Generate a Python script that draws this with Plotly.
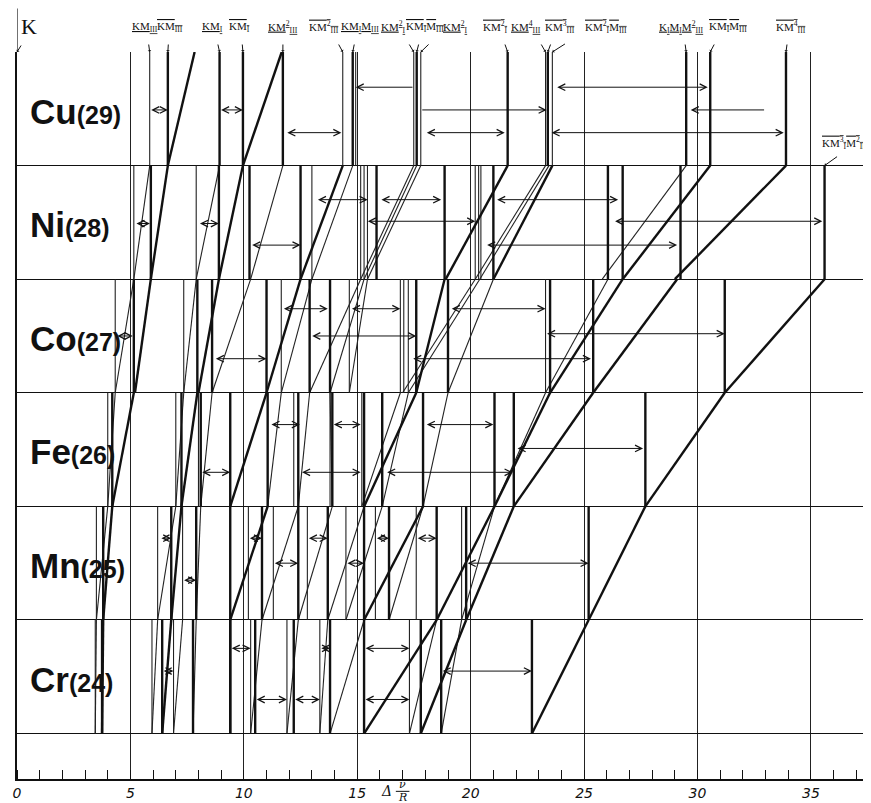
import plotly.graph_objects as go

# ---------------- data (Δν/R positions) ----------------
ELEMENTS = ["Cr", "Mn", "Fe", "Co", "Ni", "Cu"]
ATOMIC_NUMBERS = [24, 25, 26, 27, 28, 29]

# vertical satellite lines per element row
cu_thick = [6.65, 8.93, 9.96, 11.72, 14.80, 17.62, 21.63, 23.40, 29.50, 30.56, 33.90]
cu_thin = [5.85, 14.36, 14.93, 17.49, 17.80, 23.30, 23.60]
ni_thick = [5.90, 8.90, 10.25, 12.50, 15.85, 18.85, 21.00, 26.05, 26.70, 29.25, 35.60]
ni_thin = [5.15, 7.90, 13.00, 15.15, 15.30, 15.45, 20.20, 20.35, 20.45]
co_thick = [5.15, 7.95, 8.60, 11.00, 12.90, 13.80, 17.60, 19.00, 23.50, 25.40, 31.20]
co_thin = [4.33, 7.35, 11.65, 14.65, 16.90, 17.05, 17.25, 23.30]
fe_thick = [4.20, 7.25, 8.10, 9.40, 11.05, 12.40, 13.90, 15.30, 16.10, 17.90, 21.05, 21.90, 27.70]
fe_thin = [4.00, 7.00, 8.00, 12.20, 13.80, 15.20]
mn_thick = [3.80, 6.80, 7.90, 9.40, 10.80, 12.40, 13.70, 15.30, 16.40, 18.50, 19.80, 25.20]
mn_thin = [3.50, 6.20, 7.30, 10.20, 11.30, 12.80, 14.50, 15.80, 17.60, 19.60]
cr_thick = [3.75, 6.40, 7.76, 9.40, 10.50, 12.20, 13.80, 15.30, 17.80, 18.70, 22.70]
cr_thin = [3.45, 5.95, 6.90, 10.30, 11.90, 13.35, 17.30]

# diagonals inside each row: (position at bottom of row, position at top of row)
cu_diag_thick = [(6.65, 7.83), (9.96, 11.67)]
cu_diag_thin = []
ni_diag_thick = [(5.90, 6.65), (8.90, 9.96), (12.50, 14.36), (18.90, 21.63), (21.00, 23.60), (26.70, 30.56), (29.00, 33.90)]
ni_diag_thin = [(5.15, 5.85), (7.90, 8.93), (10.30, 11.72), (13.00, 14.80), (15.15, 17.49), (15.30, 17.62),
                (15.45, 17.80), (20.20, 23.30), (20.40, 23.45), (25.80, 29.50)]
co_diag_thick = [(5.20, 5.90), (8.00, 8.90), (11.00, 12.50), (17.60, 18.85), (23.50, 26.70), (25.40, 29.10), (31.20, 35.60)]
co_diag_thin = [(4.33, 5.15), (7.35, 7.90), (8.60, 10.30), (11.65, 13.00), (12.90, 15.15), (13.80, 15.30),
                (14.65, 15.45), (17.00, 20.20), (17.25, 20.40), (19.00, 21.00), (23.30, 26.05)]
fe_diag_thick = [(4.20, 5.15), (7.25, 7.95), (9.40, 11.00), (15.30, 17.60), (21.05, 23.50), (21.90, 25.40), (27.70, 31.20)]
fe_diag_thin = [(4.00, 4.33), (7.00, 7.35), (8.10, 8.60), (11.05, 11.65), (12.40, 12.90), (13.90, 13.80),
                (15.20, 16.90), (16.10, 17.25), (17.90, 19.00), (21.05, 23.30)]
mn_diag_thick = [(3.80, 4.20), (6.80, 7.25), (9.40, 11.05), (15.30, 17.90), (18.50, 21.05), (19.80, 21.90), (25.20, 27.70)]
mn_diag_thin = [(3.50, 4.00), (6.20, 7.00), (7.90, 8.10), (10.80, 12.40), (12.40, 13.90), (13.70, 15.30),
                (14.50, 16.10), (16.40, 17.90), (19.60, 21.05)]
cr_diag_thick = [(3.75, 3.80), (6.40, 6.80), (9.40, 9.40), (15.30, 18.50), (17.80, 19.80), (22.70, 25.20)]
cr_diag_thin = [(3.45, 3.50), (5.95, 6.20), (6.90, 7.30), (7.76, 7.90), (10.30, 10.80), (11.90, 12.40),
                (13.35, 13.70), (13.80, 15.30), (17.30, 18.50), (18.70, 19.60)]

# arrows: (from, to, height in row 0..1 from bottom, heads)
cu_arrows = [(5.85, 6.65, 0.49, "both"), (8.93, 9.96, 0.49, "both"), (11.85, 14.30, 0.29, "both"),
             (17.50, 14.93, 0.69, "end"), (23.75, 30.45, 0.69, "both"), (17.80, 23.35, 0.49, "end"),
             (33.00, 29.70, 0.49, "end"), (18.00, 21.50, 0.29, "both"), (23.50, 33.80, 0.29, "both")]
ni_arrows = [(5.20, 5.86, 0.49, "both"), (8.00, 8.90, 0.49, "both"), (10.30, 12.50, 0.30, "both"),
             (13.20, 15.46, 0.70, "both"), (16.00, 18.70, 0.70, "both"), (21.10, 26.50, 0.70, "both"),
             (15.40, 20.20, 0.51, "both"), (26.30, 35.50, 0.51, "both"), (20.66, 29.10, 0.30, "both")]
co_arrows = [(4.36, 5.10, 0.50, "both"), (12.95, 17.60, 0.50, "both"), (8.70, 11.00, 0.30, "both"),
             (17.40, 25.30, 0.30, "both"), (11.70, 13.70, 0.74, "both"), (14.70, 16.90, 0.74, "both"),
             (19.10, 23.30, 0.74, "both"), (23.30, 31.20, 0.52, "both")]
fe_arrows = [(11.15, 12.47, 0.72, "both"), (13.90, 15.15, 0.72, "both"), (18.00, 21.00, 0.72, "both"),
             (8.10, 9.40, 0.30, "both"), (12.50, 15.15, 0.30, "both"), (16.25, 21.85, 0.30, "both"),
             (22.00, 27.60, 0.51, "both"), (4.00, 4.20, 0.52, "both"), (7.00, 7.25, 0.52, "both")]
mn_arrows = [(6.30, 6.80, 0.72, "both"), (10.20, 10.80, 0.72, "both"), (12.80, 13.70, 0.72, "both"),
             (15.80, 16.40, 0.72, "both"), (17.60, 18.50, 0.72, "both"), (7.30, 7.90, 0.35, "both"),
             (11.30, 12.40, 0.50, "both"), (14.50, 15.30, 0.50, "both"), (19.80, 25.20, 0.50, "both")]
cr_arrows = [(9.40, 10.30, 0.75, "both"), (13.35, 13.80, 0.75, "both"), (15.30, 17.30, 0.75, "both"),
             (10.50, 11.90, 0.30, "both"), (6.40, 6.90, 0.55, "both"), (18.70, 22.70, 0.55, "both"),
             (12.20, 13.35, 0.30, "both"), (15.30, 17.30, 0.30, "both")]

HEADER_TEXT = ["KM<sub>III</sub>", "KM<sub>III</sub>", "KM<sub>I</sub>", "KM<sub>I</sub>", "KM<sup>2</sup><sub>III</sub>",
               "KM<sup>2</sup><sub>III</sub>", "KM<sub>I</sub>M<sub>III</sub>", "KM<sup>2</sup><sub>I</sub>",
               "KM<sub>I</sub>M<sub>III</sub>", "KM<sup>2</sup><sub>I</sub>", "KM<sup>2</sup><sub>I</sub>",
               "KM<sup>4</sup><sub>III</sub>", "KM<sup>3</sup><sub>III</sub>", "KM<sup>2</sup><sub>I</sub>M<sub>III</sub>",
               "K<sub>I</sub>M<sub>I</sub>M<sup>2</sup><sub>III</sub>", "KM<sub>I</sub>M<sub>III</sub>",
               "KM<sup>4</sup><sub>III</sub>"]
HEADER_POS = [5.65, 6.74, 8.60, 9.83, 11.73, 13.55, 15.10, 16.60, 18.00, 19.35, 21.10, 22.45, 23.95, 25.95, 29.30, 31.35, 34.10]
HEADER_BAR = [False, True, False, True, False, True, False, False, True, False, True, False, True, True, False, True, True]
HEADER_TARGET = [5.85, 6.65, 8.93, 9.96, 11.72, 14.36, 14.80, 17.49, 17.62, 17.80, 21.63, 23.30, 23.40, 23.60, 29.50, 30.56, 33.90]

X_MAX = 38.0
X_TICKS = [0, 5, 10, 15, 20, 25, 30, 35]

# ---------------- geometry of rows ----------------
ROW_BOTTOM0 = 0.4  # the empty strip above the scale
rows = {
    "Cu": (cu_thick, cu_thin, cu_diag_thick, cu_diag_thin, cu_arrows),
    "Ni": (ni_thick, ni_thin, ni_diag_thick, ni_diag_thin, ni_arrows),
    "Co": (co_thick, co_thin, co_diag_thick, co_diag_thin, co_arrows),
    "Fe": (fe_thick, fe_thin, fe_diag_thick, fe_diag_thin, fe_arrows),
    "Mn": (mn_thick, mn_thin, mn_diag_thick, mn_diag_thin, mn_arrows),
    "Cr": (cr_thick, cr_thin, cr_diag_thick, cr_diag_thin, cr_arrows),
}

LABEL_FONT = "Liberation Sans, Arial, sans-serif"
HEAD_FONT = "Liberation Serif, serif"

fig = go.Figure()
annotations = []
thick_x, thick_y, thin_x, thin_y = [], [], [], []
for i, el in enumerate(ELEMENTS):
    b = ROW_BOTTOM0 + i
    t = b + 1
    tk, tn, dtk, dtn, arr = rows[el]
    for v in tk:
        thick_x += [v, v, None]; thick_y += [b, t, None]
    for v in tn:
        thin_x += [v, v, None]; thin_y += [b, t, None]
    for (x0, x1) in dtk:
        thick_x += [x0, x1, None]; thick_y += [b, t, None]
    for (x0, x1) in dtn:
        thin_x += [x0, x1, None]; thin_y += [b, t, None]
    for (x0, x1, h, heads) in arr:
        yy = b + h
        annotations.append(dict(x=x1, y=yy, ax=x0, ay=yy, xref="x", yref="y", axref="x", ayref="y",
                                text="", showarrow=True, arrowhead=5, startarrowhead=5, arrowsize=1.3,
                                startarrowsize=1.3, arrowwidth=1, arrowcolor="#111",
                                arrowside="end+start" if heads == "both" else "end"))
    # element label
    annotations.append(dict(x=0.5, y=b + 0.48, xref="x", yref="y", xanchor="left", yanchor="middle",
                            showarrow=False,
                            text=f"{el}<span style='font-size:25px'>({ATOMIC_NUMBERS[i]})</span>",
                            font=dict(family=LABEL_FONT, size=35, color="#111", weight="bold")))

fig.add_trace(go.Scatter(x=thin_x, y=thin_y, mode="lines", line=dict(color="#222", width=1.1),
                         hoverinfo="skip", showlegend=False))
fig.add_trace(go.Scatter(x=thick_x, y=thick_y, mode="lines", line=dict(color="#111", width=2.4),
                         hoverinfo="skip", showlegend=False))

# header labels above the chart
for txt, pos, bar, tgt in zip(HEADER_TEXT, HEADER_POS, HEADER_BAR, HEADER_TARGET):
    deco = "overline" if bar else "underline"
    annotations.append(dict(x=pos, y=1.0, xref="x", yref="paper", yshift=25, yanchor="middle", showarrow=False,
                            text=f"<span style='text-decoration:{deco}'>{txt}</span>",
                            font=dict(family=HEAD_FONT, size=11, color="#111")))
    annotations.append(dict(x=tgt, y=6.4, xref="x", yref="y", ax=(pos - tgt) * 6, ay=-9, text="",
                            showarrow=True, arrowhead=1, arrowsize=0.6, arrowwidth=1, arrowcolor="#111"))

annotations.append(dict(x=36.5, y=5.6, xref="x", yref="y", showarrow=False,
                        text="<span style='text-decoration:overline'>KM<sup>3</sup><sub>I</sub>M<sup>2</sup><sub>III</sub></span>",
                        font=dict(family=HEAD_FONT, size=11, color="#111")))
annotations.append(dict(x=35.6, y=5.4, xref="x", yref="y", ax=14, ay=-10, text="", showarrow=True,
                        arrowhead=1, arrowsize=0.6, arrowwidth=1, arrowcolor="#111"))
# K label
annotations.append(dict(x=0.1, y=1.0, xref="x", yref="paper", yshift=26, xanchor="left", yanchor="middle",
                        showarrow=False, text="K",
                        font=dict(family=HEAD_FONT, size=22, color="#111")))
annotations.append(dict(x=0.0, y=6.4, xref="x", yref="y", ax=5, ay=-8, text="", showarrow=True,
                        arrowhead=1, arrowsize=0.6, arrowwidth=1, arrowcolor="#111"))

# axis title Δ ν/R
annotations.append(dict(x=16.3, y=-0.016, xref="x", yref="paper", yanchor="middle", showarrow=False,
                        text="<i>Δ</i>", font=dict(family="DejaVu Serif", size=14, color="#111")))
annotations.append(dict(x=17.0, y=-0.007, xref="x", yref="paper", yanchor="middle", showarrow=False,
                        text="<i>ν</i>", font=dict(family="DejaVu Serif", size=11, color="#111")))
annotations.append(dict(x=17.0, y=-0.026, xref="x", yref="paper", yanchor="middle", showarrow=False,
                        text="<i>R</i>", font=dict(family="DejaVu Serif", size=11, color="#111")))

shapes = [
    dict(type="line", xref="x", yref="paper", x0=0, x1=0, y0=1, y1=1.06, line=dict(color="#111", width=1.2)),
    dict(type="line", xref="x", yref="paper", x0=16.7, x1=17.3, y0=-0.017, y1=-0.017, line=dict(color="#111", width=1)),
]

row_lines = [ROW_BOTTOM0 + i for i in range(len(ELEMENTS) + 1)]

fig.update_layout(
    width=871, height=803,
    margin=dict(l=9, r=0, t=44, b=32),
    plot_bgcolor="white", paper_bgcolor="white",
    annotations=annotations, shapes=shapes,
    xaxis=dict(range=[0, X_MAX], tickvals=X_TICKS, ticktext=[str(v) for v in X_TICKS],
               showgrid=True, gridcolor="#222", gridwidth=1, zeroline=False,
               showline=True, linecolor="#111", linewidth=1.5, mirror=False,
               ticks="", tickfont=dict(family="DejaVu Sans", size=14, color="#111", style="italic"),
               minor=dict(dtick=1, ticks="inside", ticklen=9, tickcolor="#111", showgrid=False)),
    yaxis=dict(range=[0, ROW_BOTTOM0 + len(ELEMENTS)], tickvals=row_lines, showticklabels=False,
               showgrid=True, gridcolor="#111", gridwidth=1.3, zeroline=False,
               showline=True, linecolor="#111", linewidth=1.5, ticks=""),
)

fig.write_html("out.html")
